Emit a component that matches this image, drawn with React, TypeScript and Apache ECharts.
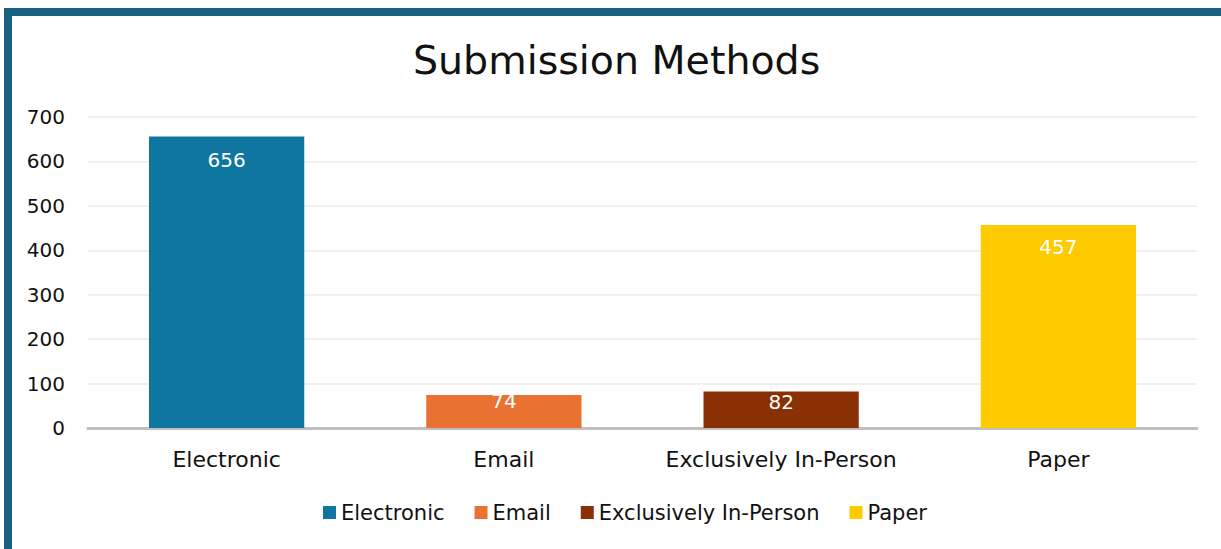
import React, { useEffect, useRef } from "react";
import * as echarts from "echarts";

const categories = ["Electronic", "Email", "Exclusively In-Person", "Paper"];
const values = [656, 74, 82, 457];
const colors = ["#0E76A0", "#E97132", "#8A3005", "#FFCA00"];
const labelDistances = [13, -4, 0, 12];
const yTicks = [0, 100, 200, 300, 400, 500, 600, 700];

const FONT = "DejaVu Sans";

export default function App() {
  const ref = useRef<HTMLDivElement>(null);
  useEffect(() => {
    document.body.style.margin = "0";
    const chart = echarts.init(ref.current!, undefined, { renderer: "svg" });
    const series = categories.map((name, i) => ({
      name,
      type: "bar",
      stack: "all",
      barWidth: "56%",
      itemStyle: { color: colors[i] },
      label: {
        show: true,
        position: "insideTop",
        distance: labelDistances[i],
        color: "#ffffff",
        fontFamily: FONT,
        fontSize: 20,
      },
      data: categories.map((_, j) => (j === i ? values[i] : null)),
    }));
    chart.setOption({
      animation: false,
      backgroundColor: "#ffffff",
      title: {
        text: "Submission Methods",
        left: 408,
        top: 35,
        textStyle: { fontFamily: FONT, fontSize: 39.5, fontWeight: "normal", color: "#111111" },
      },
      grid: { left: 88, right: 24, top: 117, bottom: 121, containLabel: false },
      xAxis: {
        type: "category",
        data: categories,
        axisLine: { lineStyle: { color: "#BFBFBF", width: 3 } },
        axisTick: { show: false },
        axisLabel: { fontFamily: FONT, fontSize: 22, color: "#111111", margin: 20, interval: 0 },
      },
      yAxis: {
        type: "value",
        min: yTicks[0],
        max: yTicks[yTicks.length - 1],
        interval: 100,
        axisLine: { show: false },
        axisTick: { show: false },
        splitLine: { lineStyle: { color: "#EBEBEB", width: 1.5 } },
        axisLabel: { fontFamily: FONT, fontSize: 20, color: "#111111", margin: 23 },
      },
      legend: {
        data: categories,
        left: 318,
        top: 497,
        itemWidth: 13,
        itemHeight: 13,
        itemGap: 30,
        icon: "rect",
        textStyle: { fontFamily: FONT, fontSize: 21, color: "#111111" },
      },
      series,
    });
    return () => chart.dispose();
  }, []);
  return (
    <div style={{ position: "fixed", left: 0, top: 0, width: 1221, height: 549, overflow: "hidden", background: "#fff" }}>
      <div ref={ref} style={{ position: "absolute", left: 0, top: 0, width: 1221, height: 549 }} />
      <div
        style={{
          position: "absolute",
          left: 4,
          top: 8,
          width: 1240,
          height: 538,
          border: "8px solid #17607F",
          pointerEvents: "none",
        }}
      />
    </div>
  );
}
